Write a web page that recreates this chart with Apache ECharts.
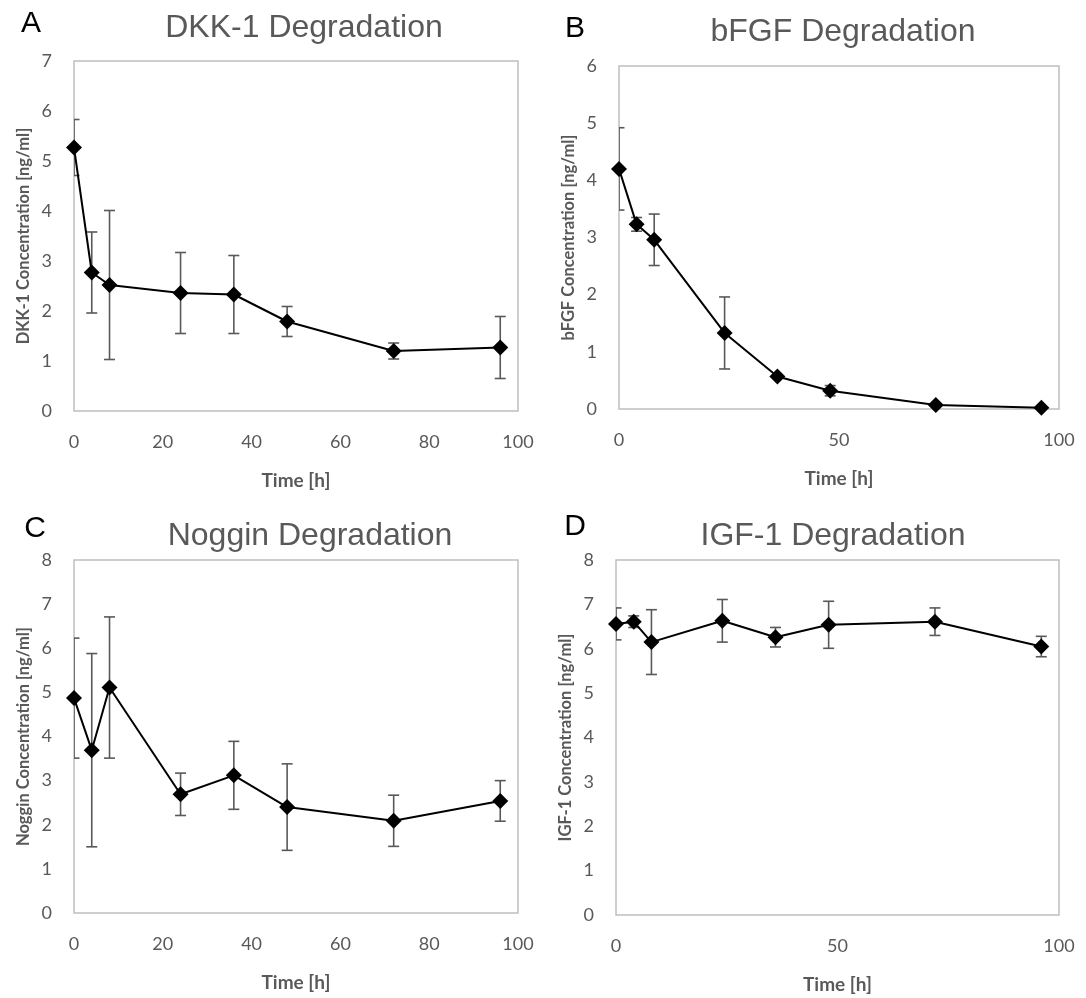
<!DOCTYPE html>
<html>
<head>
<meta charset="utf-8">
<title>Growth factor degradation</title>
<script src="https://cdn.jsdelivr.net/npm/echarts@6/dist/echarts.min.js"></script>
<style>
  html, body { margin: 0; padding: 0; background: #fff; }
  #chart { width: 1086px; height: 998px; }
</style>
</head>
<body>
<div id="chart"></div>
<script>
// Sampling times (hours)
const times = [0, 4, 8, 24, 36, 48, 72, 96];

// Mean concentration [ng/ml] and error (±) per time point
const dkk1Mean = [5.27, 2.77, 2.52, 2.36, 2.33, 1.79, 1.20, 1.27];
const dkk1Err  = [0.56, 0.81, 1.49, 0.81, 0.78, 0.30, 0.16, 0.62];

const bfgfMean = [4.20, 3.23, 2.96, 1.33, 0.57, 0.32, 0.07, 0.02];
const bfgfErr  = [0.72, 0.12, 0.45, 0.63, 0.03, 0.09, 0.02, 0.01];

const nogginMean = [4.87, 3.69, 5.11, 2.69, 3.12, 2.40, 2.09, 2.54];
const nogginErr  = [1.36, 2.19, 1.60, 0.48, 0.77, 0.98, 0.58, 0.46];

const igf1Mean = [6.56, 6.61, 6.15, 6.63, 6.26, 6.54, 6.61, 6.05];
const igf1Err  = [0.36, 0.13, 0.73, 0.48, 0.22, 0.53, 0.31, 0.23];

// Panel text
const panelLetters = ['A', 'B', 'C', 'D'];
const panelTitles = ['DKK-1 Degradation', 'bFGF Degradation', 'Noggin Degradation', 'IGF-1 Degradation'];
const yNames = ['DKK-1 Concentration [ng/ml]', 'bFGF Concentration [ng/ml]',
                'Noggin Concentration [ng/ml]', 'IGF-1 Concentration [ng/ml]'];
const xName = 'Time [h]';
const yMax = [7, 6, 8, 8];
const xStep = [20, 50, 20, 50];

const means = [dkk1Mean, bfgfMean, nogginMean, igf1Mean];
const errs = [dkk1Err, bfgfErr, nogginErr, igf1Err];

// Plot-area rectangles for the 2x2 layout
const grids = [
  { left: 74,  top: 61,  width: 444, height: 350 },
  { left: 619, top: 66,  width: 440, height: 343 },
  { left: 74,  top: 560, width: 444, height: 353 },
  { left: 616, top: 560, width: 443, height: 355 }
];

// Positions of the panel letters and titles
const letterPos = [[31, 24], [575, 29], [35, 529], [575, 527]];
const titlePos = [[304, 28], [843, 32], [310, 536], [833, 536]];

const GRAY = '#595959';
const TICK_FONT = 'Lato, "Open Sans", sans-serif';

function errorBarItem(params, api) {
  const x = api.value(0);
  const top = api.coord([x, api.value(2)]);
  const bot = api.coord([x, api.value(1)]);
  const hw = 5.5;
  const style = { stroke: GRAY, lineWidth: 1.6 };
  return {
    type: 'group',
    children: [
      { type: 'line', shape: { x1: top[0], y1: top[1], x2: bot[0], y2: bot[1] }, style: style },
      { type: 'line', shape: { x1: top[0] - hw, y1: top[1], x2: top[0] + hw, y2: top[1] }, style: style },
      { type: 'line', shape: { x1: bot[0] - hw, y1: bot[1], x2: bot[0] + hw, y2: bot[1] }, style: style }
    ]
  };
}

const option = {
  animation: false,
  backgroundColor: '#ffffff',
  grid: grids.map(g => Object.assign({
    show: true, borderColor: '#bfbfbf', borderWidth: 1.5, backgroundColor: 'transparent'
  }, g)),
  xAxis: grids.map((g, i) => ({
    type: 'value', gridIndex: i, min: 0, max: 100, interval: xStep[i],
    axisLine: { show: false }, axisTick: { show: false }, splitLine: { show: false },
    axisLabel: { color: GRAY, fontSize: 18, fontFamily: TICK_FONT, margin: 22 },
    name: xName, nameLocation: 'middle', nameGap: 60,
    nameTextStyle: { color: GRAY, fontSize: 19, fontWeight: 'bold', fontFamily: TICK_FONT }
  })),
  yAxis: grids.map((g, i) => ({
    type: 'value', gridIndex: i, min: 0, max: yMax[i], interval: 1,
    axisLine: { show: false }, axisTick: { show: false }, splitLine: { show: false },
    axisLabel: { color: GRAY, fontSize: 18, fontFamily: TICK_FONT, margin: 22 },
    name: yNames[i], nameLocation: 'middle', nameGap: 42,
    nameTextStyle: { color: GRAY, fontSize: 16.5, fontWeight: 'bold', fontFamily: TICK_FONT }
  })),
  series: [],
  graphic: []
};

for (let i = 0; i < 4; i++) {
  option.series.push({
    type: 'custom', xAxisIndex: i, yAxisIndex: i, z: 1, clip: true,
    renderItem: errorBarItem,
    encode: { x: 0, y: [1, 2] },
    data: times.map((t, k) => [t, means[i][k] - errs[i][k], means[i][k] + errs[i][k]])
  });
  option.series.push({
    type: 'line', xAxisIndex: i, yAxisIndex: i, z: 2,
    symbol: 'diamond', symbolSize: 16,
    itemStyle: { color: '#000000' },
    lineStyle: { color: '#000000', width: 2 },
    data: times.map((t, k) => [t, means[i][k]])
  });
  option.graphic.push({
    type: 'text', x: letterPos[i][0], y: letterPos[i][1],
    style: { text: panelLetters[i], fill: '#000000', font: '30px "Liberation Sans", Arial, sans-serif',
             textAlign: 'center', textVerticalAlign: 'middle' }
  });
  option.graphic.push({
    type: 'text', x: titlePos[i][0], y: titlePos[i][1],
    style: { text: panelTitles[i], fill: GRAY, font: '32px "Liberation Sans", Arial, sans-serif',
             textAlign: 'center', textVerticalAlign: 'middle' }
  });
}

const chart = echarts.init(document.getElementById('chart'), null, { renderer: 'canvas' });
chart.setOption(option);
</script>
</body>
</html>
